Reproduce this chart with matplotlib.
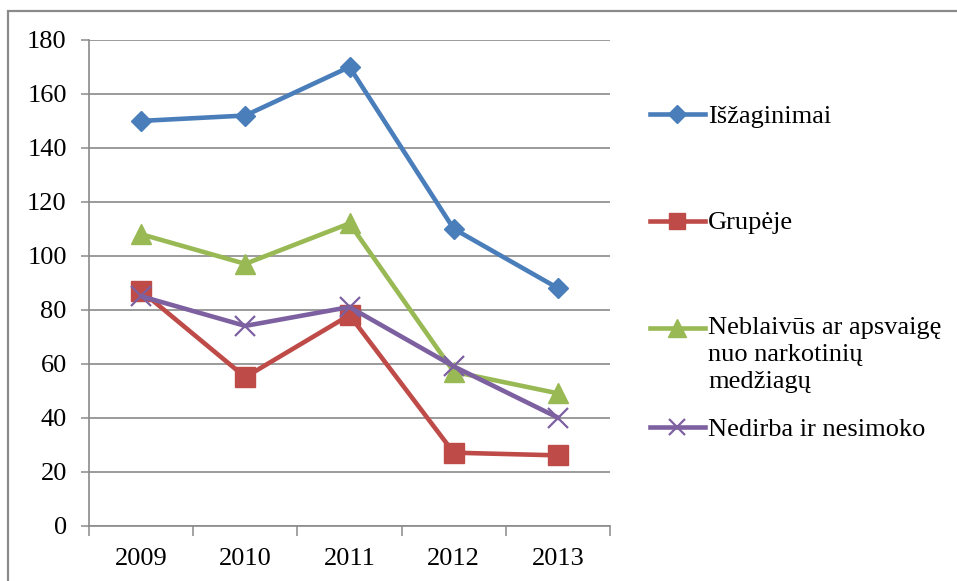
import matplotlib
matplotlib.use("Agg")
import matplotlib.pyplot as plt
from matplotlib.lines import Line2D
from matplotlib.patches import Rectangle

plt.rcParams['font.family'] = ['Liberation Serif', 'DejaVu Serif']

years = ["2009", "2010", "2011", "2012", "2013"]
izaginimai = [150, 152, 170, 110, 88]
grupeje = [87, 55, 78, 27, 26]
neblaivus = [108, 97, 112, 57, 49]
nedirba = [85, 74, 81, 59, 40]

labels = ["Išžaginimai", "Grupėje",
          "Neblaivūs ar apsvaigę\nnuo narkotinių\nmedžiagų",
          "Nedirba ir nesimoko"]
yticks = [0, 20, 40, 60, 80, 100, 120, 140, 160, 180]

colors = ["#4A7EBB", "#BE4B48", "#98B954", "#7D60A0"]
markers = ["D", "s", "^", "x"]
msizes = [10.5, 14, 15, 14]
mews = [1, 1, 1, 1.6]

W, H = 957, 581
fig = plt.figure(figsize=(W / 100, H / 100), dpi=100)

# outer chart border
top = 1 - 11 / H
fig.patches.append(Rectangle((8 / W, -0.2), 1.3, top + 0.2,
                             transform=fig.transFigure, fill=False,
                             edgecolor="#8a8a8a", linewidth=1.6))

ax = fig.add_axes([89 / W, 1 - 525.5 / H, (610 - 89) / W, (525.5 - 40) / H])
x = list(range(len(years)))
series = [izaginimai, grupeje, neblaivus, nedirba]
for vals, c, m, ms, mew in zip(series, colors, markers, msizes, mews):
    ax.plot(x, vals, color=c, linewidth=3.3, marker=m, markersize=ms,
            markerfacecolor=c, markeredgecolor=c, markeredgewidth=mew,
            solid_joinstyle="round", zorder=3)

ax.set_xlim(-0.5, len(years) - 0.5)
ax.set_ylim(0, 180)
ax.set_yticks(yticks)
ax.set_xticks(x)
ax.set_xticklabels(years)
ax.set_xticks([i - 0.5 for i in range(len(years) + 1)], minor=True)
ax.tick_params(axis="x", which="major", length=0, pad=16, labelsize=19)
ax.tick_params(axis="x", which="minor", length=7, width=1.1, color="#8a8a8a")
ax.tick_params(axis="y", length=6, width=1.1, color="#8a8a8a", pad=10, labelsize=19)
ax.grid(axis="y", color="#8a8a8a", linewidth=1.2)
ax.set_axisbelow(True)
for s in ["top", "right"]:
    ax.spines[s].set_visible(False)
for s in ["left", "bottom"]:
    ax.spines[s].set_color("#8a8a8a")
    ax.spines[s].set_linewidth(1.2)

# legend drawn at right
leg_y = [114, 221, 328, 427]
x0, xm, x1 = 650 / W, 677 / W, 705 / W
for lab, yy, c, m, ms, mew in zip(labels, leg_y, colors, markers, msizes, mews):
    yf = 1 - yy / H
    fig.add_artist(Line2D([x0, xm, x1], [yf, yf, yf], transform=fig.transFigure,
                          color=c, linewidth=3.3, marker=m, markersize=ms * 0.85,
                          markevery=[1], markerfacecolor=c, markeredgecolor=c,
                          markeredgewidth=mew))
    if "\n" not in lab:
        fig.text(708 / W, yf, lab, fontsize=19, va="center_baseline", ha="left")
    else:
        fig.text(708 / W, 1 - (yy - 11) / H, lab, fontsize=19, va="top",
                 ha="left", linespacing=1.28)

fig.savefig("out.png", dpi=100)
